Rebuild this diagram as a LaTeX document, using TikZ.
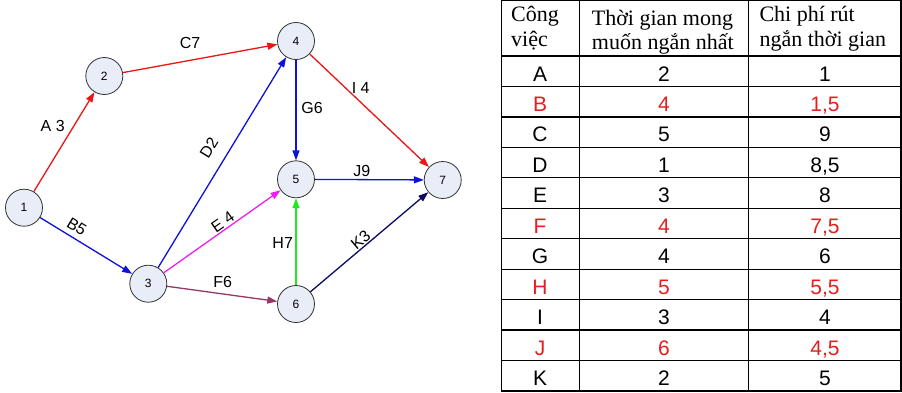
\documentclass[tikz,border=0pt]{standalone}
\usepackage{fontspec}
\setmainfont{Liberation Sans}
\newfontfamily\serifvn{Liberation Serif}
\usetikzlibrary{arrows.meta}
\definecolor{nodefill}{RGB}{232,237,247}
\definecolor{ered}{RGB}{238,20,20}
\definecolor{eblue}{RGB}{16,16,220}
\definecolor{emag}{RGB}{240,30,240}
\definecolor{eplum}{RGB}{150,55,100}
\definecolor{egreen}{RGB}{30,235,30}
\definecolor{enavy}{RGB}{10,10,100}
\definecolor{tred}{RGB}{230,30,30}
\begin{document}
\begin{tikzpicture}[x=1pt,y=-1pt,
  vtx/.style={circle,draw=black!80,line width=0.8pt,fill=nodefill,minimum size=37pt,inner sep=0pt,font=\fontsize{12}{14}\selectfont},
  edge/.style={line width=1.3pt,-{Triangle[length=10pt,width=7pt]}},
  lbl/.style={font=\fontsize{16}{18}\selectfont,inner sep=0pt},
  hdr/.style={font=\serifvn\fontsize{22}{24}\selectfont,inner sep=0pt,anchor=base west},
  cell/.style={font=\fontsize{21}{24}\selectfont,inner sep=0pt,anchor=base},
  grid/.style={line width=1.2pt,black}]
\useasboundingbox (0,0) rectangle (902,392);
\fill[white] (0,0) rectangle (902,392);
% vertices
\node[vtx] (n1) at (24,207.7) {1};
\node[vtx] (n2) at (104.3,76) {2};
\node[vtx] (n3) at (148.3,283.7) {3};
\node[vtx] (n4) at (296,41) {4};
\node[vtx] (n5) at (296,179.3) {5};
\node[vtx] (n6) at (296,304) {6};
\node[vtx] (n7) at (442.7,180) {7};
% edges
\draw[edge,ered] (n1) -- (n2);
\draw[edge,ered] (n2) -- (n4);
\draw[edge,ered] (n4) -- (n7);
\draw[edge,eblue] (n1) -- (n3);
\draw[edge,eblue] (n3) -- (n4);
\draw[edge,eblue] (n4) -- (n5);
\draw[edge,eblue] (n5) -- (n7);
\draw[edge,emag] (n3) -- (n5);
\draw[edge,eplum] (n3) -- (n6);
\draw[edge,egreen] (n6) -- (n5);
\draw[edge,enavy] (n6) -- (n7);
% labels
\node[lbl] (lA) at (52.7,126) {A 3};
\node[lbl,rotate=-31.5] (lB) at (76.7,226.7) {B5};
\node[lbl] (lC) at (190,43) {C7};
\node[lbl,rotate=58.7] (lD) at (209,148) {D2};
\node[lbl,rotate=35] (lE) at (222.7,221.7) {E 4};
\node[lbl] (lF) at (222.7,281.7) {F6};
\node[lbl] (lG) at (312,108) {G6};
\node[lbl] (lH) at (282.7,243) {H7};
\node[lbl] (lI) at (360.7,88) {I 4};
\node[lbl] (lJ) at (361.7,170.7) {J9};
\node[lbl,rotate=40] (lK) at (360.7,240) {K3};
% table grid
\draw[grid] (501.5,0.7) rectangle (901,391);
\draw[grid] (579.3,0.7) -- (579.3,391);
\draw[grid] (748.3,0.7) -- (748.3,391);
\foreach \k in {0,...,10} {
  \draw[grid] (501.5,{56+30.45*\k}) -- (901,{56+30.45*\k});
}
% header
\node[hdr] (h1a) at (511,21.7) {Công};
\node[hdr] (h1b) at (511,46.7) {việc};
\node[hdr] (h2a) at (591.7,25) {Thời gian mong};
\node[hdr] (h2b) at (591.7,49) {muốn ngắn nhất};
\node[hdr] (h3a) at (759.3,21.7) {Chi phí rút};
\node[hdr] (h3b) at (759.3,46) {ngắn thời gian};
% body
\foreach \l/\t/\c/\col [count=\i from 0] in {A/2/1/black,B/4/1{,}5/tred,C/5/9/black,D/1/8{,}5/black,E/3/8/black,F/4/7{,}5/tred,G/4/6/black,H/5/5{,}5/tred,I/3/4/black,J/6/4{,}5/tred,K/2/5/black} {
  \node[cell,text=\col] (ca\i) at (540,{81+30.45*\i}) {\l};
  \node[cell,text=\col] (cb\i) at (664,{81+30.45*\i}) {\t};
  \node[cell,text=\col] (cc\i) at (825,{81+30.45*\i}) {\c};
}
\end{tikzpicture}
\end{document}
